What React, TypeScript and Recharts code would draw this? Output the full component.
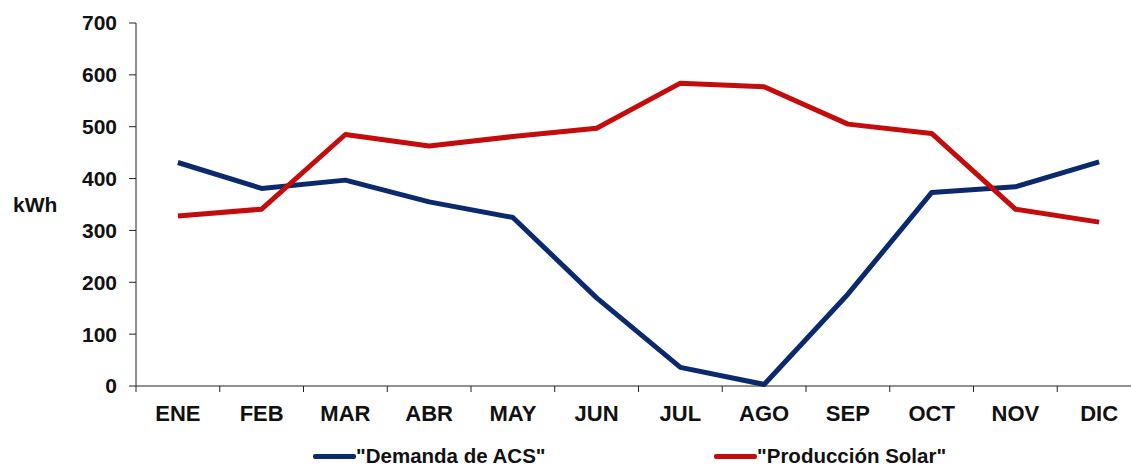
import React from "react";
import { CartesianGrid, Legend, Line, LineChart, XAxis, YAxis } from "recharts";

const MONTHS = ["ENE", "FEB", "MAR", "ABR", "MAY", "JUN", "JUL", "AGO", "SEP", "OCT", "NOV", "DIC"];
const DEMANDA = [431, 381, 397, 355, 325, 170, 36, 3, 177, 373, 384, 432];
const SOLAR = [328, 341, 485, 463, 481, 497, 584, 577, 505, 487, 341, 316];
const Y_TICKS = [0, 100, 200, 300, 400, 500, 600, 700];

const BLUE = "#0b2a6e";
const RED = "#c40c0c";
const FONT = "'Liberation Sans', Arial, sans-serif";

const W = 1160;
const H = 466;
const M = { top: 23, right: 19, left: 0, bottom: 0 };
const YW = 136;
const BAND = (W - M.left - M.right - YW) / MONTHS.length;

const data = MONTHS.map((m, i) => ({ m, demanda: DEMANDA[i], solar: SOLAR[i] }));

function MonthTick(props: any) {
  const { x, y, payload, index } = props;
  return (
    <g>
      <line x1={x - BAND / 2} y1={y} x2={x - BAND / 2} y2={y + 6} stroke="#222" strokeWidth={1} />
      {index === MONTHS.length - 1 && (
        <line x1={x + BAND / 2} y1={y} x2={x + BAND / 2} y2={y + 6} stroke="#222" strokeWidth={1} />
      )}
      <text x={x} y={y + 35} textAnchor="middle" fontFamily={FONT} fontWeight="bold" fontSize={22} fill="#111">
        {payload.value}
      </text>
    </g>
  );
}

function LegendContent() {
  const items = [
    { label: '"Demanda de ACS"', color: BLUE, left: 313 },
    { label: '"Producción Solar"', color: RED, left: 714 },
  ];
  return (
    <div style={{ position: "relative", height: 20 }}>
      {items.map((it) => (
        <div
          key={it.label}
          style={{ position: "absolute", left: it.left, top: 0, height: 20, display: "flex", alignItems: "center" }}
        >
          <span style={{ display: "inline-block", width: 43, height: 5, background: it.color, borderRadius: 2 }} />
          <span style={{ fontFamily: FONT, fontWeight: "bold", fontSize: 20.5, color: "#111", marginLeft: 0 }}>
            {it.label}
          </span>
        </div>
      ))}
    </div>
  );
}

export default function App() {
  return (
    <div style={{ position: "absolute", left: 0, top: 0, width: 1131, height: H, overflow: "hidden", background: "#fff" }}>
      <LineChart width={W} height={H} data={data} margin={M}>
        <CartesianGrid stroke="none" />
        <XAxis
          dataKey="m"
          tick={<MonthTick />}
          tickLine={false}
          tickSize={0}
          tickMargin={0}
          height={60}
          interval={0}
          padding={{ left: BAND / 2, right: BAND / 2 }}
          axisLine={{ stroke: "#222", strokeWidth: 1 }}
        />
        <YAxis
          domain={[0, 700]}
          ticks={Y_TICKS}
          width={YW}
          tickSize={7}
          tickMargin={12}
          axisLine={{ stroke: "#222", strokeWidth: 1 }}
          tickLine={{ stroke: "#222" }}
          tick={{ fontFamily: FONT, fontWeight: "bold", fontSize: 21, fill: "#111" }}
          label={{ value: "kWh", angle: 0, position: "insideLeft", offset: 13, style: { fontFamily: FONT, fontWeight: "bold", fontSize: 21, fill: "#111" } }}
        />
        <Legend verticalAlign="bottom" height={20} content={<LegendContent />} />
        <Line dataKey="demanda" name='"Demanda de ACS"' stroke={BLUE} strokeWidth={5} dot={false} isAnimationActive={false} strokeLinejoin="round" />
        <Line dataKey="solar" name='"Producción Solar"' stroke={RED} strokeWidth={5} dot={false} isAnimationActive={false} strokeLinejoin="round" />
      </LineChart>
    </div>
  );
}
